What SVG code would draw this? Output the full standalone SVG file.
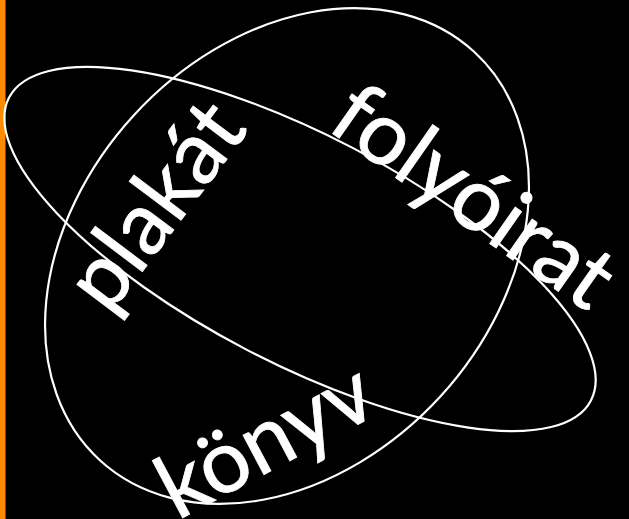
<svg xmlns="http://www.w3.org/2000/svg" width="629" height="519" viewBox="0 0 629 519">
<style>
.e{fill:none;stroke:#fff;stroke-width:2.2}
.t{fill:#fff;font-family:Lato,"Open Sans",sans-serif;font-size:88px;text-anchor:middle;stroke:#fff;stroke-width:0.8}
</style>
<rect x="0" y="0" width="629" height="519" fill="#000"/>
<rect x="0" y="0" width="5.5" height="519" fill="#ff8c00"/>
<g id="connectors">
<ellipse id="wide" class="e" cx="300" cy="249" rx="328" ry="114" transform="rotate(27.5 300 249)"/>
<ellipse id="tall" class="e" cx="287" cy="256" rx="277" ry="208" transform="rotate(-47.5 287 256)"/>
</g>
<g id="plakat"><text class="t" transform="translate(155,205) rotate(-53)" y="30">plakát</text></g>
<g id="folyoirat"><text class="t" transform="translate(474,196) rotate(35)" y="30">folyóirat</text></g>
<g id="konyv"><text class="t" transform="translate(265,440) rotate(-28)" y="30">könyv</text></g>
</svg>
